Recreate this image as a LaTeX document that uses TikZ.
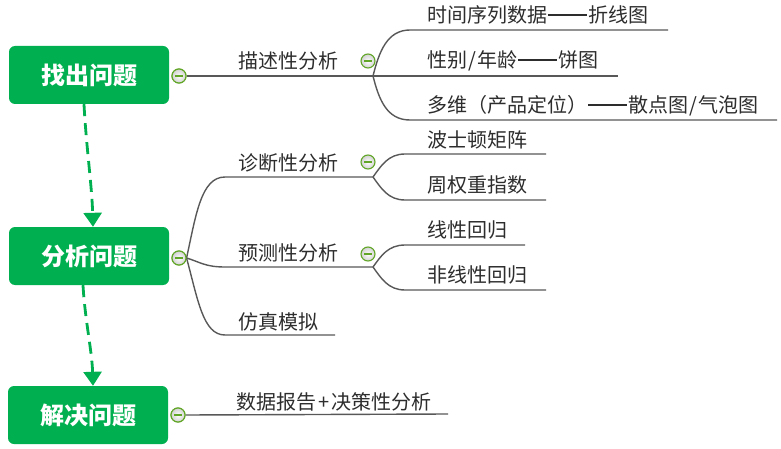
\documentclass[tikz,border=0pt]{standalone}
\usepackage{fontspec}
\newfontfamily\cjk{Noto Sans CJK SC}
\usetikzlibrary{arrows.meta}
\definecolor{boxgreen}{RGB}{0,176,80}
\definecolor{ringgreen}{RGB}{98,166,40}
\definecolor{linegray}{RGB}{88,88,88}
\definecolor{txtgray}{RGB}{45,45,45}
\newcommand{\dashdash}{\hspace{0.05em}\rule[0.34em]{1.95em}{0.065em}\hspace{0.05em}}
\begin{document}
\begin{tikzpicture}[x=1pt,y=-1pt,
  topic/.style={fill=boxgreen, rounded corners=6pt, minimum width=160pt, minimum height=58pt,
    text=white, inner sep=0pt, font=\cjk\bfseries\fontsize{24}{24}\selectfont},
  collapse/.style={circle, draw=ringgreen, line width=1.1pt, inner sep=0pt, minimum size=14pt,
    inner color=white, outer color=black!18,
    path picture={\draw[ringgreen, line width=1.8pt]
      ([xshift=-4pt]path picture bounding box.center) -- ([xshift=4pt]path picture bounding box.center);}},
  lbl/.style={anchor=base west, inner sep=0pt, text=txtgray, font=\cjk\fontsize{20}{20}\selectfont},
  branch/.style={draw=linegray, line width=1.4pt},
  flow/.style={draw=boxgreen, line width=2.8pt, dash pattern=on 12pt off 7pt,
    -{Triangle[length=14pt,width=18pt]}}
]
\useasboundingbox (0,0) rectangle (781,449);

% main topics
\node[topic] (t1) at (89,75) {找出问题};
\node[topic] (t2) at (89,256) {分析问题};
\node[topic] (t3) at (88,415) {解决问题};

% flow arrows
\draw[flow] ([xshift=-5pt]t1.south) .. controls +(2,40) and +(-1,-40) .. ([xshift=4pt]t2.north);
\draw[flow] ([xshift=-6pt]t2.south) .. controls +(2,35) and +(-1,-35) .. ([xshift=5pt]t3.north);

% collapse buttons on main topics
\node[collapse] (c1) at (179,76) {};
\node[collapse] (c2) at (179,258) {};
\node[collapse] (c3) at (178,415) {};

% ---- topic 1 ----
\coordinate (b1) at (373,76);
\coordinate (l11s) at (410,30);  \coordinate (l11e) at (668,30);
\coordinate (l12e) at (618,76);
\coordinate (l13s) at (410,120); \coordinate (l13e) at (777,120);
\draw[branch] (c1.east) -- (b1);
\draw[branch] (b1) .. controls (379,52) and (387,30) .. (l11s) -- (l11e);
\draw[branch] (b1) -- (l12e);
\draw[branch] (b1) .. controls (379,100) and (387,120) .. (l13s) -- (l13e);
\node[lbl] (n1) at (238.5,68.5) {描述性分析};
\node[collapse] (c11) at (368,61) {};
\node[lbl] (n11) at (427,22.5) {时间序列数据\dashdash 折线图};
\node[lbl] (n12) at (427,67.5) {性别\hspace{1pt}/\hspace{1pt}年龄\dashdash 饼图};
\node[lbl] (n13) at (427,112.5) {多维（产品定位）\dashdash 散点图\hspace{1pt}/\hspace{1pt}气泡图};

% ---- topic 2 ----
\coordinate (b2) at (373,177);
\coordinate (b3) at (373,267);
\coordinate (l21s) at (225,177);
\coordinate (l22s) at (225,267);
\coordinate (l23s) at (225,335); \coordinate (l23e) at (335,335);
\draw[branch] (c2.east) .. controls (196,215) and (201,177) .. (l21s) -- (b2);
\draw[branch] (c2.east) .. controls (200,262) and (205,267) .. (l22s) -- (b3);
\draw[branch] (c2.east) .. controls (198,300) and (203,335) .. (l23s) -- (l23e);
\node[lbl] (n21) at (238.5,170.5) {诊断性分析};
\node[collapse] (c21) at (368,162) {};
\node[lbl] (n22) at (238.5,260.5) {预测性分析};
\node[collapse] (c22) at (368,254) {};
\node[lbl] (n23) at (238.5,329.5) {仿真模拟};

\coordinate (l211s) at (405,154); \coordinate (l211e) at (546,154);
\coordinate (l212s) at (405,200); \coordinate (l212e) at (546,200);
\draw[branch] (b2) .. controls (381,166) and (388,154) .. (l211s) -- (l211e);
\draw[branch] (b2) .. controls (381,188) and (388,200) .. (l212s) -- (l212e);
\node[lbl] (n211) at (427,147.5) {波士顿矩阵};
\node[lbl] (n212) at (427,192.5) {周权重指数};

\coordinate (l221s) at (405,245); \coordinate (l221e) at (525,245);
\coordinate (l222s) at (405,290); \coordinate (l222e) at (546,290);
\draw[branch] (b3) .. controls (381,256) and (388,245) .. (l221s) -- (l221e);
\draw[branch] (b3) .. controls (381,278) and (388,290) .. (l222s) -- (l222e);
\node[lbl] (n221) at (427,237.5) {线性回归};
\node[lbl] (n222) at (427,282.5) {非线性回归};

% ---- topic 3 ----
\coordinate (l31e) at (448,414);
\draw[branch] (c3.east) -- (l31e);
\node[lbl] (n31) at (236,409.5) {数据报告\hspace{2pt}+\hspace{2pt}决策性分析};

% redraw collapse buttons on top
\node[collapse] at (c1) {};
\node[collapse] at (c2) {};
\node[collapse] at (c3) {};
\end{tikzpicture}
\end{document}
